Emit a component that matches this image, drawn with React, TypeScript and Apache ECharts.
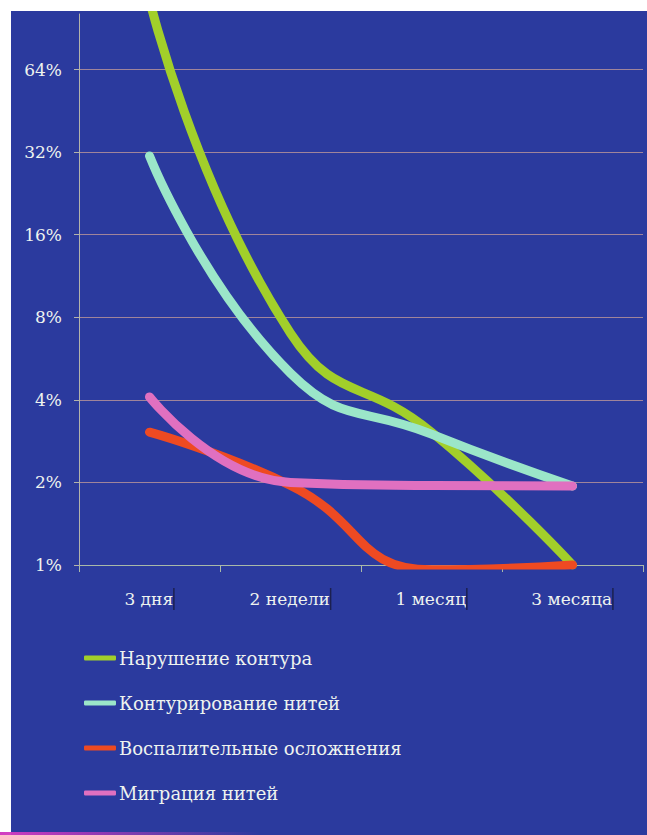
import React, { useEffect, useRef } from "react";
import * as echarts from "echarts";

const categories = ["3 дня", "2 недели", "1 месяц", "3 месяца"];
const seriesNames = [
  "Нарушение контура",
  "Контурирование нитей",
  "Воспалительные осложнения",
  "Миграция нитей",
];
const contourViolation = [115, 7, 3.05, 1];
const threadContouring = [31, 5, 3, 1.94];
const inflammatory = [3.05, 1.95, 0.96, 1.0];
const threadMigration = [4.1, 2.0, 1.95, 1.94];
const seriesColors = ["#a2cf2a", "#9be6c9", "#ee4a22", "#e070c0"];

const FONT = "DejaVu Serif";
const TEXT = "#eef3ef";

export default function App() {
  const ref = useRef<HTMLDivElement>(null);
  useEffect(() => {
    const chart = echarts.init(ref.current!, null, { renderer: "svg" });
    const data = [contourViolation, threadContouring, inflammatory, threadMigration];
    chart.setOption({
      animation: false,
      backgroundColor: "#2b3a9e",
      grid: { left: 68, top: 3, right: 4, bottom: 270 },
      legend: {
        orient: "vertical",
        left: 68,
        top: 632,
        icon: "roundRect",
        itemWidth: 32,
        itemHeight: 5,
        itemGap: 25,
        data: seriesNames,
        textStyle: {
          fontFamily: FONT,
          fontSize: 18,
          lineHeight: 20,
          color: TEXT,
          padding: [0, 0, 0, -2],
        },
      },
      xAxis: {
        type: "category",
        data: categories,
        boundaryGap: true,
        axisLine: { lineStyle: { color: "#a9b8a8", width: 1 } },
        axisTick: { show: true, length: 7, lineStyle: { color: "#a9b8a8" } },
        axisLabel: {
          margin: 23,
          formatter: (v: string) => `{t|${v}}{b|}`,
          rich: {
            t: { fontFamily: FONT, fontSize: 17, color: TEXT },
            b: { width: 1.5, height: 22, backgroundColor: "#1c2050" },
          },
        },
        splitLine: { show: false },
      },
      yAxis: {
        type: "log",
        logBase: 2,
        min: 1,
        max: 102,
        splitNumber: 6,
        axisLine: { show: true, lineStyle: { color: "#b3b3aa", width: 1 } },
        axisTick: { show: true, length: 5, lineStyle: { color: "#b3b3aa" } },
        axisLabel: {
          showMaxLabel: false,
          margin: 17,
          fontFamily: FONT,
          fontSize: 17,
          color: TEXT,
          formatter: (v: number) => Math.round(v) + "%",
        },
        splitLine: {
          show: true,
          showMaxLine: false,
          lineStyle: { color: "#a0849a", width: 1 },
        },
      },
      series: seriesNames.map((name, i) => ({
        name,
        type: "line",
        data: data[i],
        smooth: true,
        clip: true,
        showSymbol: false,
        symbol: "none",
        lineStyle: { width: 9, color: seriesColors[i], cap: "round", join: "round" },
        itemStyle: { color: seriesColors[i] },
      })),
    });
    return () => chart.dispose();
  }, []);
  return (
    <div
      style={{
        position: "fixed",
        left: 0,
        top: 0,
        width: 647,
        height: 835,
        background: "#ffffff",
        overflow: "hidden",
      }}
    >
      <div
        ref={ref}
        style={{ position: "absolute", left: 11, top: 11, width: 636, height: 824 }}
      />
      <div
        style={{
          position: "absolute",
          left: 0,
          bottom: 0,
          width: 260,
          height: 3,
          background: "linear-gradient(to right, #d03cc0, rgba(208,60,192,0))",
        }}
      />
    </div>
  );
}
